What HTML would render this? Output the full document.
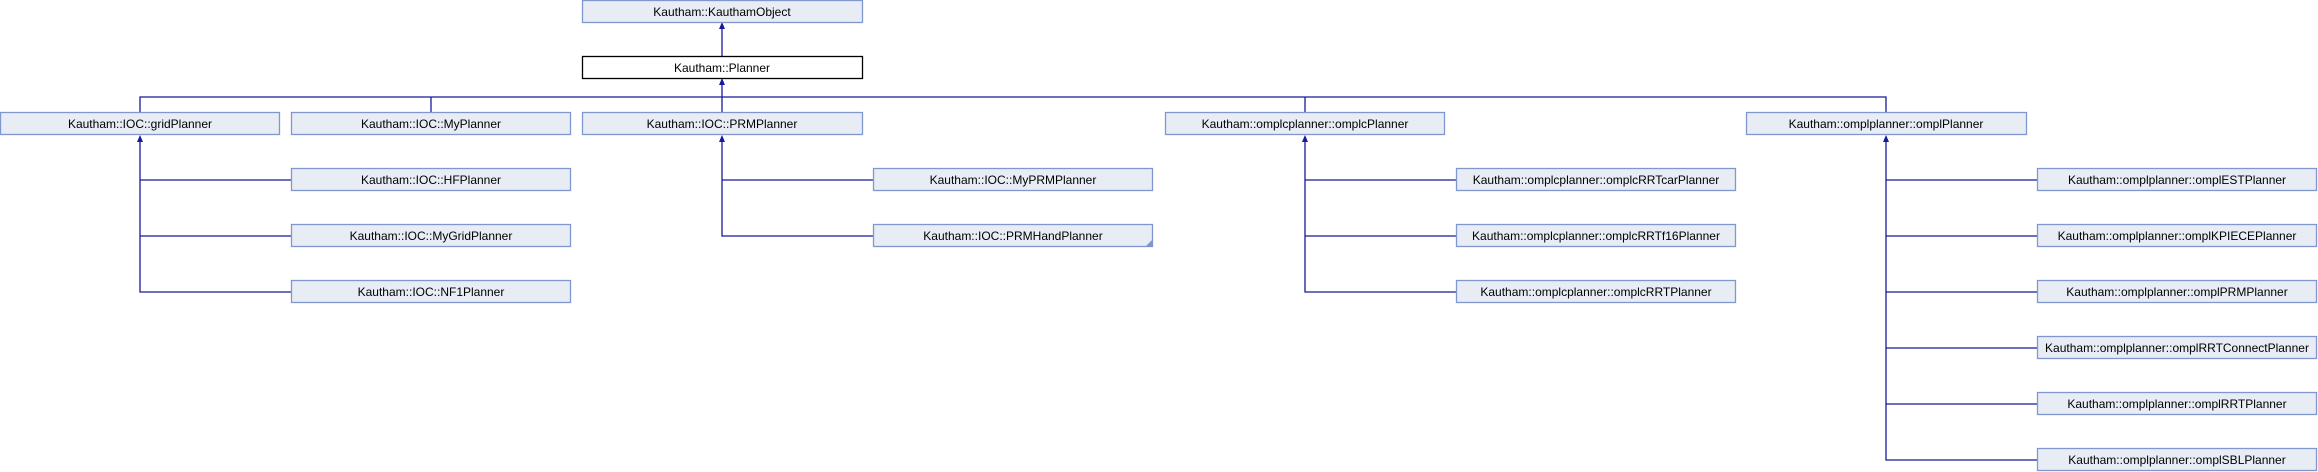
<!DOCTYPE html>
<html><head><meta charset="utf-8"><style>
html,body{margin:0;padding:0;background:#fff;width:2318px;height:472px;overflow:hidden}
text{font-family:"Liberation Sans",Arial,sans-serif;font-size:12px;fill:#000;text-anchor:middle}
.b{fill:#e8ecf5;stroke:#7f97cd;stroke-width:1.3}
.l{stroke:#19199a;stroke-width:1.3;fill:none}
.a{fill:#19199a}
</style></head><body>
<svg width="2318" height="472" xmlns="http://www.w3.org/2000/svg">
<g class="l">
<path d="M722 56V28"/>
<path d="M722 112V84"/>
<path d="M140 112V97H1886V112"/>
<path d="M431 97V112"/>
<path d="M1305 97V112"/>
<path d="M140 141V292H291 M140 180H291 M140 236H291"/>
<path d="M722 141V236H873 M722 180H873"/>
<path d="M1305 141V292H1456 M1305 180H1456 M1305 236H1456"/>
<path d="M1886 141V460H2037 M1886 180H2037 M1886 236H2037 M1886 292H2037 M1886 348H2037 M1886 404H2037"/>
</g>
<g class="a">
<path d="M722 22l-3 7h6z"/>
<path d="M722 78l-3 7h6z"/>
<path d="M140 135l-3 7h6z"/>
<path d="M722 135l-3 7h6z"/>
<path d="M1305 135l-3 7h6z"/>
<path d="M1886 135l-3 7h6z"/>
</g>
<rect class="b" x="582.5" y="0.5" width="280" height="22"/><text x="722" y="16">Kautham::KauthamObject</text>
<rect x="582.5" y="56.5" width="280" height="22" fill="#fff" stroke="#000" stroke-width="1.3"/><text x="722" y="72">Kautham::Planner</text>
<rect class="b" x="0.5" y="112.5" width="279" height="22"/><text x="140" y="128">Kautham::IOC::gridPlanner</text>
<rect class="b" x="291.5" y="112.5" width="279" height="22"/><text x="431" y="128">Kautham::IOC::MyPlanner</text>
<rect class="b" x="582.5" y="112.5" width="280" height="22"/><text x="722" y="128">Kautham::IOC::PRMPlanner</text>
<rect class="b" x="1165.5" y="112.5" width="279" height="22"/><text x="1305" y="128">Kautham::omplcplanner::omplcPlanner</text>
<rect class="b" x="1746.5" y="112.5" width="280" height="22"/><text x="1886" y="128">Kautham::omplplanner::omplPlanner</text>

<rect class="b" x="291.5" y="168.5" width="279" height="22"/><text x="431" y="184">Kautham::IOC::HFPlanner</text>
<rect class="b" x="291.5" y="224.5" width="279" height="22"/><text x="431" y="240">Kautham::IOC::MyGridPlanner</text>
<rect class="b" x="291.5" y="280.5" width="279" height="22"/><text x="431" y="296">Kautham::IOC::NF1Planner</text>

<rect class="b" x="873.5" y="168.5" width="279" height="22"/><text x="1013" y="184">Kautham::IOC::MyPRMPlanner</text>
<rect class="b" x="873.5" y="224.5" width="279" height="22"/><text x="1013" y="240">Kautham::IOC::PRMHandPlanner</text>
<path d="M1152 240l0 6h-6z" fill="#7f97cd"/>

<rect class="b" x="1456.5" y="168.5" width="279" height="22"/><text x="1596" y="184">Kautham::omplcplanner::omplcRRTcarPlanner</text>
<rect class="b" x="1456.5" y="224.5" width="279" height="22"/><text x="1596" y="240">Kautham::omplcplanner::omplcRRTf16Planner</text>
<rect class="b" x="1456.5" y="280.5" width="279" height="22"/><text x="1596" y="296">Kautham::omplcplanner::omplcRRTPlanner</text>

<rect class="b" x="2037.5" y="168.5" width="279" height="22"/><text x="2177" y="184">Kautham::omplplanner::omplESTPlanner</text>
<rect class="b" x="2037.5" y="224.5" width="279" height="22"/><text x="2177" y="240">Kautham::omplplanner::omplKPIECEPlanner</text>
<rect class="b" x="2037.5" y="280.5" width="279" height="22"/><text x="2177" y="296">Kautham::omplplanner::omplPRMPlanner</text>
<rect class="b" x="2037.5" y="336.5" width="279" height="22"/><text x="2177" y="352">Kautham::omplplanner::omplRRTConnectPlanner</text>
<rect class="b" x="2037.5" y="392.5" width="279" height="22"/><text x="2177" y="408">Kautham::omplplanner::omplRRTPlanner</text>
<rect class="b" x="2037.5" y="448.5" width="279" height="22"/><text x="2177" y="464">Kautham::omplplanner::omplSBLPlanner</text>
</svg>
</body></html>
